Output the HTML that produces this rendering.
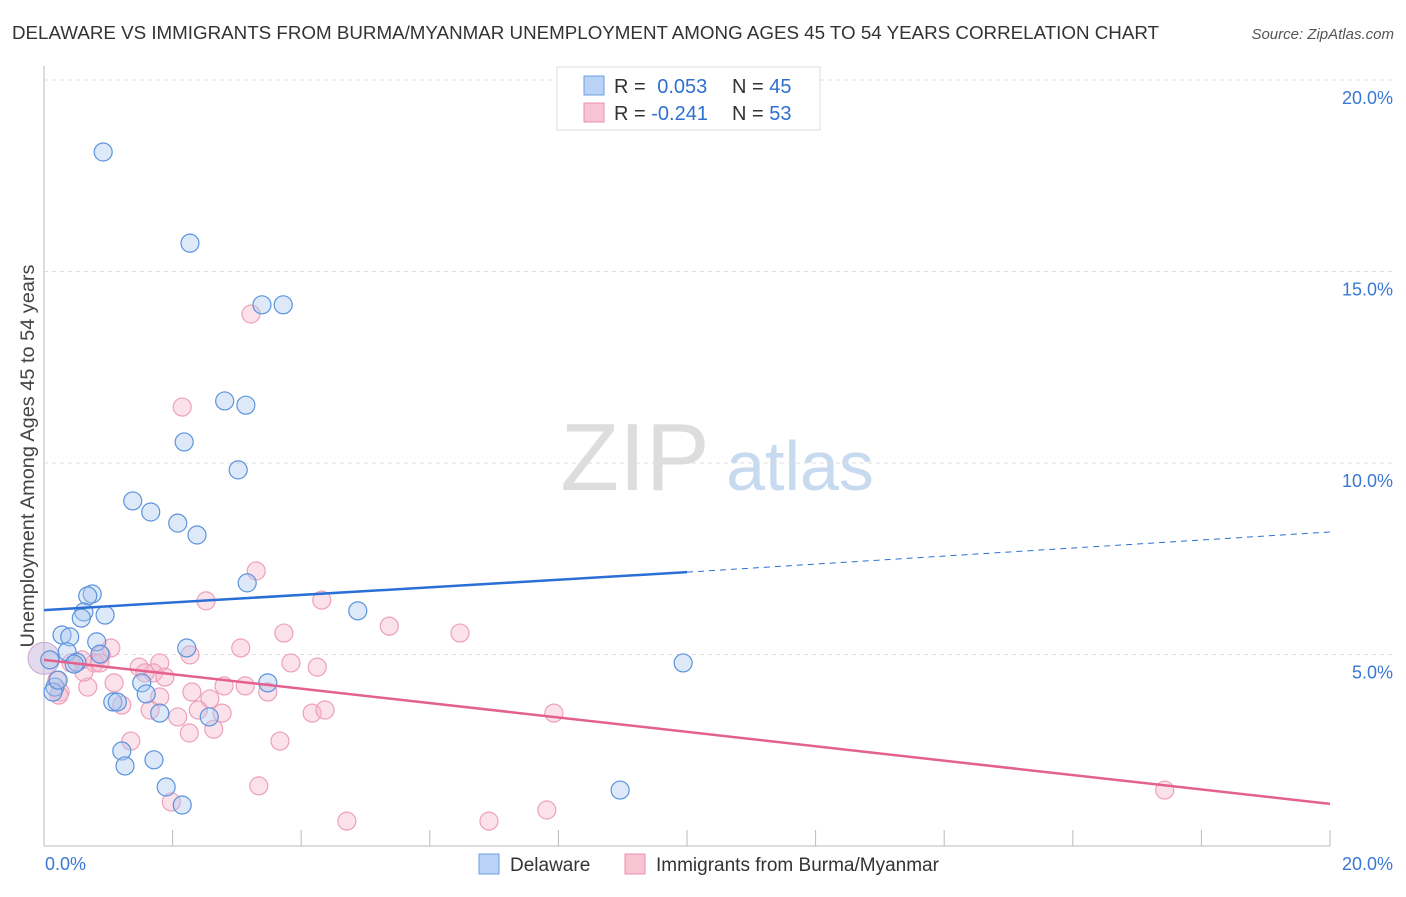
<!DOCTYPE html>
<html><head><meta charset="utf-8"><style>
body{margin:0;background:#fff;font-family:"Liberation Sans",sans-serif;}
svg text{font-family:"Liberation Sans",sans-serif;}
</style></head><body>
<svg id="chart" width="1406" height="892" xmlns="http://www.w3.org/2000/svg">
<text x="12" y="39" font-size="18.7" fill="#333" textLength="1147" lengthAdjust="spacingAndGlyphs">DELAWARE VS IMMIGRANTS FROM BURMA/MYANMAR UNEMPLOYMENT AMONG AGES 45 TO 54 YEARS CORRELATION CHART</text>
<text x="1394" y="39" font-size="15" fill="#555" font-style="italic" text-anchor="end">Source: ZipAtlas.com</text>
<text x="34" y="456" font-size="19" fill="#444" text-anchor="middle" textLength="383" lengthAdjust="spacingAndGlyphs" transform="rotate(-90 34 456)">Unemployment Among Ages 45 to 54 years</text>
<g><text x="635" y="490" font-size="96" fill="#ddd" font-family="Liberation Serif" text-anchor="middle">ZIP</text><text x="800" y="490" font-size="70" fill="#c8daf0" text-anchor="middle">atlas</text></g>
<g id="grid"></g><g id="marks"></g>
<g>
<rect x="557" y="67" width="263" height="63" fill="#fff" stroke="#ddd"/>
<rect x="584" y="76" width="20" height="19" fill="#b9d2f5" stroke="#6b9fe0"/>
<rect x="584" y="103" width="20" height="19" fill="#f8c4d4" stroke="#ea8fae"/>
<text x="614" y="93" font-size="20" fill="#333">R = <tspan fill="#2f6fd0" dx="6">0.053</tspan></text>
<text x="732" y="93" font-size="20" fill="#333">N = <tspan fill="#2f6fd0">45</tspan></text>
<text x="614" y="120" font-size="20" fill="#333">R = <tspan fill="#2f6fd0">-0.241</tspan></text>
<text x="732" y="120" font-size="20" fill="#333">N = <tspan fill="#2f6fd0">53</tspan></text>
</g>
<g>
<rect x="479" y="854" width="20" height="20" fill="#b9d2f5" stroke="#6b9fe0"/>
<text x="510" y="871" font-size="19" fill="#333">Delaware</text>
<rect x="625" y="854" width="20" height="20" fill="#f8c4d4" stroke="#ea8fae"/>
<text x="656" y="871" font-size="19" fill="#333">Immigrants from Burma/Myanmar</text>
</g>
</svg>
<script>
const xTicks=[0,2,4,6,8,10,12,14,16,18,20];
const yTicks=[5,10,15,20];
const blueX=[0.92,2.27,3.39,3.72,2.81,3.14,2.18,3.02,1.38,1.66,2.08,2.38,3.16,0.75,0.68,4.88,0.62,0.95,0.58,0.28,0.40,0.82,2.22,0.36,0.87,0.51,0.47,9.94,0.09,3.48,1.52,0.17,0.14,1.59,1.07,1.14,2.57,1.80,1.21,1.26,1.71,1.90,8.96,2.15,0.22];
const blueY=[18.12,15.74,14.13,14.13,11.62,11.51,10.55,9.82,9.01,8.72,8.43,8.12,6.87,6.58,6.53,6.14,6.11,6.03,5.95,5.51,5.46,5.33,5.17,5.07,5.01,4.80,4.75,4.78,4.86,4.26,4.26,4.15,4.02,3.97,3.76,3.76,3.37,3.47,2.48,2.09,2.25,1.54,1.46,1.07,4.33];
const pinkX=[3.22,2.15,3.30,2.52,4.32,5.37,6.47,3.73,3.06,1.04,0.89,4.25,3.84,0.79,0.42,1.80,1.48,1.70,1.57,1.88,1.09,0.20,2.80,3.13,1.80,2.30,3.48,0.68,0.25,2.58,1.21,1.65,2.40,2.77,4.17,4.37,2.08,2.64,2.26,1.35,3.67,7.93,3.34,1.98,4.71,6.92,7.82,17.43,0.23,0.59,0.87,2.27,0.62];
const pinkY=[13.89,11.46,7.18,6.40,6.42,5.74,5.56,5.56,5.17,5.17,4.99,4.67,4.78,4.78,4.78,4.78,4.67,4.52,4.52,4.41,4.26,4.33,4.18,4.18,3.89,4.02,4.02,4.15,4.02,3.84,3.68,3.55,3.55,3.47,3.47,3.55,3.37,3.05,2.95,2.74,2.74,3.47,1.57,1.15,0.65,0.65,0.94,1.46,3.94,4.86,4.78,4.99,4.54];
const blueLine=[6.16,7.15,8.2];   // y at x=0,10,20
const pinkLine=[4.86,1.10];       // y at x=0,20
const X=v=>44+v*64.3, Y=v=>846-v*38.3;
const NS="http://www.w3.org/2000/svg";
const grid=document.getElementById('grid'), marks=document.getElementById('marks');
function mk(p,tag,a){const e=document.createElementNS(NS,tag);for(const k in a)e.setAttribute(k,a[k]);p.appendChild(e);return e;}
let ax=mk(grid,'line',{x1:44,y1:66,x2:44,y2:846,stroke:'#bbb'});


let bx=mk(grid,'line',{x1:44,y1:846,x2:1330,y2:846,stroke:'#bbb'});


yTicks.forEach(t=>{
 const g=mk(grid,'line',{x1:44,x2:1394,y1:Y(t),y2:Y(t),stroke:'#ddd','stroke-dasharray':'4,4'});
 
 
 const l=mk(grid,'text',{x:1393,y:Y(t)+24,'font-size':18,fill:'#3a78d4','text-anchor':'end'});l.textContent=t.toFixed(1)+'%';
 
 
});
xTicks.forEach(t=>{ if(t===0)return;
 const g=mk(grid,'line',{x1:X(t),x2:X(t),y1:830,y2:846,stroke:'#bbb'});
 
 
});
[[0,'start',45],[20,'end',1393]].forEach(([t,a,px])=>{
 const l=mk(grid,'text',{x:px,y:870,'font-size':18,fill:'#3a78d4','text-anchor':a});l.textContent=t.toFixed(1)+'%';
 
 
});
const big=mk(marks,'circle',{cx:X(0),cy:Y(4.9),r:16,fill:'rgba(200,180,220,0.5)',stroke:'#c9a8d0'});


pinkX.forEach((v,i)=>{const c=mk(marks,'circle',{cx:X(v),cy:Y(pinkY[i]),r:9,fill:'rgba(246,180,202,0.4)',stroke:'#eea0bb','stroke-width':1.2});
 
 });
blueX.forEach((v,i)=>{const c=mk(marks,'circle',{cx:X(v),cy:Y(blueY[i]),r:9,fill:'rgba(170,200,240,0.4)',stroke:'#5b93dd','stroke-width':1.2});
 
 });
let l1=mk(marks,'line',{x1:X(0),y1:Y(blueLine[0]),x2:X(10),y2:Y(blueLine[1]),stroke:'#2a6fd6','stroke-width':2.5});


let l2=mk(marks,'line',{x1:X(10),y1:Y(blueLine[1]),x2:X(20),y2:Y(blueLine[2]),stroke:'#2a6fd6','stroke-width':1,'stroke-dasharray':'6,5'});


let l3=mk(marks,'line',{x1:X(0),y1:Y(pinkLine[0]),x2:X(20),y2:Y(pinkLine[1]),stroke:'#e4608e','stroke-width':2.5});


</script>
</body></html>
